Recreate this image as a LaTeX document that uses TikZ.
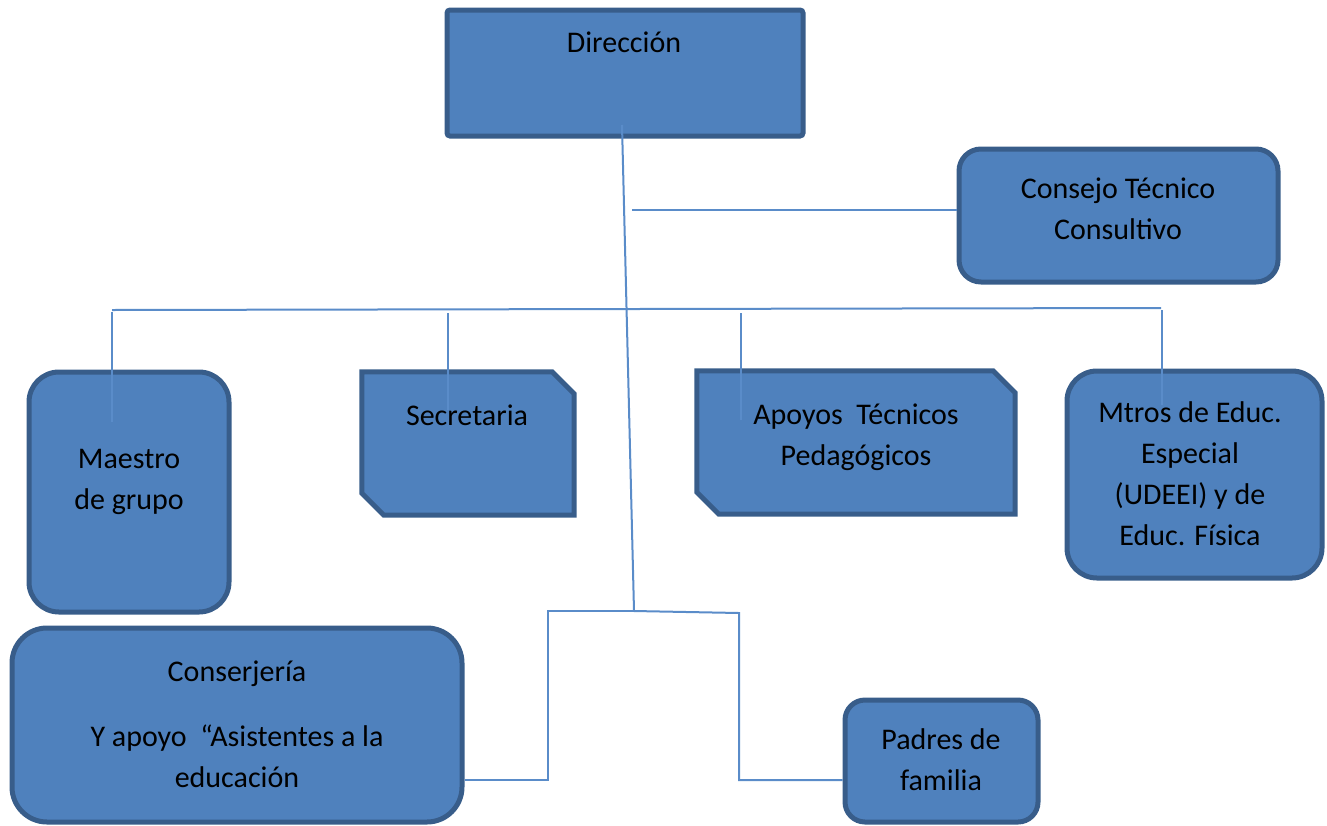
\documentclass[tikz,border=0pt]{standalone}
\usepackage{fontspec}
\setmainfont{Carlito}
\usetikzlibrary{calc}

\definecolor{boxfill}{HTML}{4F81BD}
\definecolor{boxline}{HTML}{385D8A}
\definecolor{connline}{HTML}{5A8CC9}

\tikzset{
  box/.style={draw=boxline, fill=boxfill, line width=5pt, rectangle},
  roundbox/.style={box, rounded corners=#1},
  snipframe/.style={inner sep=0pt, rectangle},
  conn/.style={draw=connline, line width=2pt},
  lbl/.style={font=\fontsize{30}{41}\selectfont, align=center, anchor=base, inner sep=0pt},
}

\begin{document}
\begin{tikzpicture}[x=1pt, y=-1pt]
\useasboundingbox (0,0) rectangle (1327,825);

% boxes
\node[roundbox=3pt, minimum width=356pt, minimum height=126pt] (dir) at (625,73) {};
\node[roundbox=22pt, minimum width=319pt, minimum height=133pt] (cons) at (1118.5,215.5) {};
\node[roundbox=30pt, minimum width=200pt, minimum height=240pt] (mae) at (129,492) {};
\node[snipframe, minimum width=212pt, minimum height=143pt] (sec) at (468,443.5) {};
\node[snipframe, minimum width=318pt, minimum height=143pt] (apo) at (856,442.5) {};
\node[roundbox=30pt, minimum width=255pt, minimum height=207pt] (mtr) at (1194.5,474.5) {};
\node[roundbox=35pt, minimum width=450pt, minimum height=194pt] (con) at (237,725) {};
\node[roundbox=20pt, minimum width=193pt, minimum height=122pt] (pad) at (941.5,761) {};

% snipped corners
\foreach \b in {sec,apo}
  \draw[box] (\b.north west) -- ($(\b.north east)+(-22,0)$) -- ($(\b.north east)+(0,22)$)
    -- (\b.south east) -- ($(\b.south west)+(22,0)$) -- ($(\b.south west)+(0,-22)$) -- cycle;

% connectors
\coordinate (dir-in) at (622,125);
\coordinate (hub) at (634,611);
\coordinate (cons-in) at (632,210);
\coordinate (bar-l) at (112,310);
\coordinate (bar-r) at (1161,308);
\coordinate (mae-t) at (112,312);   \coordinate (mae-b) at (112,422);
\coordinate (sec-t) at (448,313);   \coordinate (sec-b) at (448,410);
\coordinate (apo-t) at (741,313);   \coordinate (apo-b) at (741,420);
\coordinate (mtr-t) at (1162,310);  \coordinate (mtr-b) at (1162,405);
\coordinate (con-in) at ($(con.east)+(0,55)$);
\coordinate (pad-in) at ($(pad.west)+(0,19)$);

\draw[conn] (dir-in) -- (hub);
\draw[conn] (cons-in) -- (cons-in -| cons.west);
\draw[conn] (bar-l) -- (bar-r);
\draw[conn] (mae-t) -- (mae-b);
\draw[conn] (sec-t) -- (sec-b);
\draw[conn] (apo-t) -- (apo-b);
\draw[conn] (mtr-t) -- (mtr-b);
\draw[conn] (hub) -- (548,611) -- (548,780) -- (con-in);
\draw[conn] (hub) -- (739,613) -- (739,780) -- (pad-in);

% texts (base = last line)
\node[lbl] (dir-txt) at (624,52) {Dirección};
\node[lbl] (cons-txt) at (1118,239) {Consejo Técnico\\Consultivo};
\node[lbl] (mae-txt) at (129,509) {Maestro\\de grupo};
\node[lbl] (sec-txt) at (467,425) {Secretaria};
\node[lbl] (apo-txt) at (856,465) {Apoyos~ Técnicos\\Pedagógicos};
\node[lbl] (mtr-txt) at (1190,545) {Mtros de Educ.\\Especial\\(UDEEI) y de\\Educ. Física};
\node[lbl] (con-txt) at (237,787) {Conserjería\\[24pt]Y apoyo~ “Asistentes a la\\educación};
\node[lbl] (pad-txt) at (941,790) {Padres de\\familia};
\end{tikzpicture}
\end{document}
